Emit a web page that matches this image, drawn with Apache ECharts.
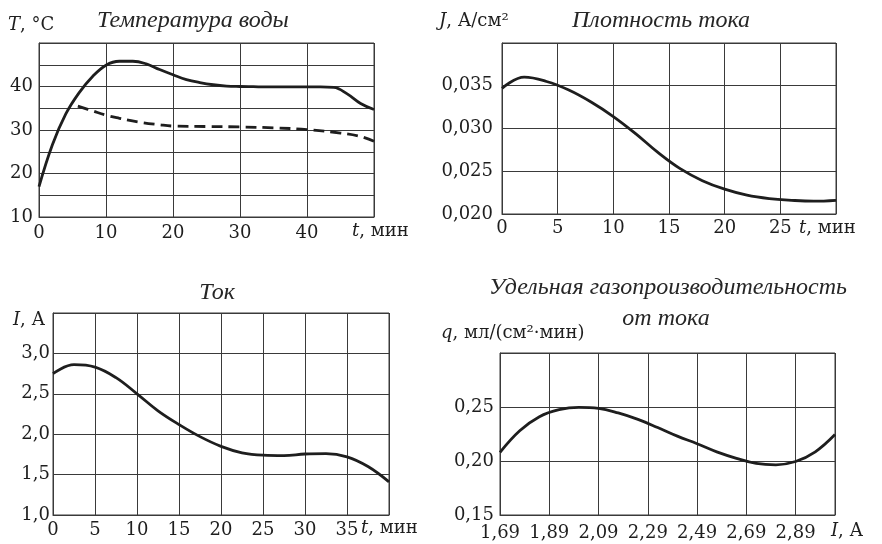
<!DOCTYPE html>
<html>
<head>
<meta charset="utf-8">
<script src="https://cdn.jsdelivr.net/npm/echarts@6/dist/echarts.min.js"></script>
<style>
  html, body { margin: 0; padding: 0; background: #fff; }
  #chart { width: 882px; height: 544px; }
</style>
</head>
<body>
<div id="chart"></div>
<script>
// Температура воды: время, мин / температура, °C
const tempTimeA = [0, 2, 4, 6, 8, 10, 12, 14, 16, 18, 20, 22, 24, 26, 28, 30, 32, 34, 36, 38, 40, 42, 44, 46, 48, 50];
const tempValuesA = [17, 26.6, 33.7, 38.6, 42.3, 44.9, 45.8, 45.8, 45.2, 43.9, 42.7, 41.6, 40.9, 40.4, 40.1, 40.0, 39.95, 39.9, 39.9, 39.9, 39.9, 39.9, 39.8, 38.3, 36.1, 34.7];
const tempTimeB = [5.8, 8, 10, 12, 15, 18, 20, 25, 30, 35, 40, 45, 48, 50];
const tempValuesB = [35.5, 34.4, 33.4, 32.7, 31.8, 31.2, 30.9, 30.8, 30.7, 30.5, 30.1, 29.3, 28.5, 27.4];
const tempXTicks = ['0', '10', '20', '30', '40'];
const tempYTicks = ['10', '20', '30', '40'];

// Плотность тока: время, мин / J, А/см²
const densTime = [0, 2, 4, 6, 8, 10, 12, 14, 16, 18, 20, 22, 24, 26, 28, 30];
const densValues = [0.0347, 0.0360, 0.0355, 0.0345, 0.0331, 0.0314, 0.0294, 0.0272, 0.0253, 0.0239, 0.0229, 0.0222, 0.0218, 0.0216, 0.0215, 0.0216];
const densXTicks = ['0', '5', '10', '15', '20', '25'];
const densYTicks = ['0,020', '0,025', '0,030', '0,035'];

// Ток: время, мин / I, А
const curTime = [0, 2.5, 5, 7.5, 10, 12.5, 15, 17.5, 20, 22.5, 25, 27.5, 30, 32.5, 35, 37.5, 40];
const curValues = [2.75, 2.86, 2.83, 2.70, 2.50, 2.29, 2.12, 1.97, 1.85, 1.77, 1.74, 1.735, 1.755, 1.76, 1.72, 1.60, 1.41];
const curXTicks = ['0', '5', '10', '15', '20', '25', '30', '35'];
const curYTicks = ['1,0', '1,5', '2,0', '2,5', '3,0'];

// Удельная газопроизводительность: ток, А / q, мл/(см²·мин)
const gasCurrent = [1.69, 1.77, 1.85, 1.93, 2.01, 2.09, 2.17, 2.25, 2.33, 2.41, 2.49, 2.57, 2.65, 2.73, 2.81, 2.89, 2.97, 3.05];
const gasValues = [0.208, 0.228, 0.241, 0.2475, 0.2497, 0.2488, 0.2445, 0.2385, 0.231, 0.223, 0.216, 0.2085, 0.2025, 0.1978, 0.1965, 0.1995, 0.2085, 0.2245];
const gasXTicks = ['1,69', '1,89', '2,09', '2,29', '2,49', '2,69', '2,89'];
const gasYTicks = ['0,15', '0,20', '0,25'];

const FONT = 'DejaVu Serif';
const TITLE_FONT = 'Liberation Serif';
const INK = '#1e1e1e';
const GRID = '#3a3a3a';

const zip = (xs, ys) => xs.map((x, i) => [x, ys[i]]);

// show only the listed tick labels, with a decimal comma
function labelFilter(list, digits) {
  return function (v) {
    const s = v.toFixed(digits).replace('.', ',');
    return list.indexOf(s) >= 0 ? s : '';
  };
}

function axis(opts) {
  return Object.assign({
    type: 'value',
    axisLine: { show: true, lineStyle: { color: GRID, width: 1 } },
    axisTick: { show: false },
    splitLine: { show: true, lineStyle: { color: GRID, width: 1 } }
  }, opts, {
    axisLabel: Object.assign({ fontFamily: FONT, fontSize: 18, color: INK }, opts.axisLabel)
  });
}

function lineSeries(idx, data, dashed) {
  return {
    type: 'line',
    xAxisIndex: idx,
    yAxisIndex: idx,
    data: data,
    smooth: 0.4,
    showSymbol: false,
    symbol: 'none',
    lineStyle: { color: INK, width: 2.8, type: dashed ? [11, 6] : 'solid', cap: 'butt' },
    z: 5
  };
}

function text(x, y, str, extra) {
  return {
    type: 'text',
    x: x,
    y: y,
    style: Object.assign({
      text: str,
      fontFamily: FONT,
      fontSize: 18,
      fill: INK,
      verticalAlign: 'middle',
      rich: {
        i: { fontStyle: 'italic', fontFamily: FONT, fontSize: 18, fill: INK }
      }
    }, extra || {})
  };
}

const titleStyle = { fontFamily: TITLE_FONT, fontStyle: 'italic', fontSize: 24, align: 'center', fill: '#262626' };

const chart = echarts.init(document.getElementById('chart'), null, { renderer: 'canvas' });

chart.setOption({
  backgroundColor: '#fff',
  animation: false,
  grid: [
    { left: 39, top: 43, width: 335, height: 174, show: true, borderColor: GRID, borderWidth: 1 },
    { left: 502, top: 43, width: 334, height: 171, show: true, borderColor: GRID, borderWidth: 1 },
    { left: 53, top: 313, width: 336, height: 202, show: true, borderColor: GRID, borderWidth: 1 },
    { left: 500, top: 353, width: 335, height: 162, show: true, borderColor: GRID, borderWidth: 1 }
  ],
  xAxis: [
    axis({ gridIndex: 0, min: 0, max: 50, interval: 10, axisLabel: { margin: 7, formatter: labelFilter(tempXTicks, 0) } }),
    axis({ gridIndex: 1, min: 0, max: 30, interval: 5, axisLabel: { margin: 5, formatter: labelFilter(densXTicks, 0) } }),
    axis({ gridIndex: 2, min: 0, max: 40, interval: 5, axisLabel: { margin: 6, formatter: labelFilter(curXTicks, 0) } }),
    axis({ gridIndex: 3, min: 1.69, max: 3.05, interval: 0.2, axisLabel: { margin: 9, formatter: labelFilter(gasXTicks, 2) } })
  ],
  yAxis: [
    axis({ gridIndex: 0, min: 10, max: 50, interval: 5, axisLabel: { margin: 6, formatter: labelFilter(tempYTicks, 0) } }),
    axis({ gridIndex: 1, min: 0.02, max: 0.04, interval: 0.005, axisLabel: { margin: 9, formatter: labelFilter(densYTicks, 3) } }),
    axis({ gridIndex: 2, min: 1.0, max: 3.5, interval: 0.5, axisLabel: { margin: 3, formatter: labelFilter(curYTicks, 1) } }),
    axis({ gridIndex: 3, min: 0.15, max: 0.30, interval: 0.05, axisLabel: { margin: 6, formatter: labelFilter(gasYTicks, 2) } })
  ],
  series: [
    lineSeries(0, zip(tempTimeA, tempValuesA), false),
    lineSeries(0, zip(tempTimeB, tempValuesB), true),
    lineSeries(1, zip(densTime, densValues), false),
    lineSeries(2, zip(curTime, curValues), false),
    lineSeries(3, zip(gasCurrent, gasValues), false)
  ],
  graphic: [
    text(8, 25, '{i|T}, °C'),
    text(193, 21, 'Температура воды', titleStyle),
    text(352, 231, '{i|t}, мин'),

    text(439, 21, '{i|J}, А/см²'),
    text(661, 21, 'Плотность тока', titleStyle),
    text(799, 228, '{i|t}, мин'),

    text(217, 293, 'Ток', titleStyle),
    text(13, 320, '{i|I}, А'),
    text(361, 528, '{i|t}, мин'),

    text(668, 288, 'Удельная газопроизводительность', titleStyle),
    text(666, 319, 'от тока', titleStyle),
    text(441, 333, '{i|q}, мл/(см²·мин)'),
    text(831, 531, '{i|I}, А')
  ]
});
</script>
</body>
</html>
